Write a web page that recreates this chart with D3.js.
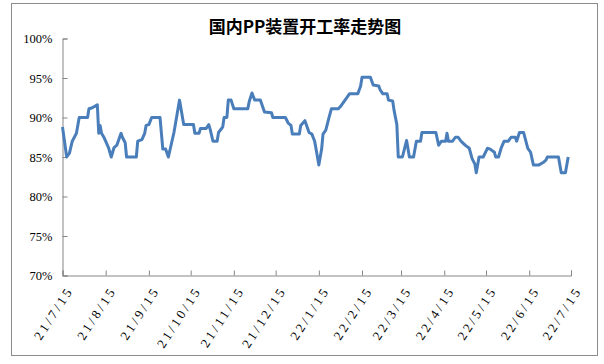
<!DOCTYPE html>
<html><head><meta charset="utf-8">
<script src="https://cdn.jsdelivr.net/npm/d3@7"></script>
<style>body{margin:0;background:#fff}svg{display:block}</style>
</head><body>
<svg id="c" width="604" height="364"></svg>
<script>
const title = "国内PP装置开工率走势图";
const dates = ["2021-07-15","2021-07-18","2021-07-20","2021-07-22","2021-07-25","2021-07-27","2021-08-02","2021-08-03","2021-08-05","2021-08-09",
"2021-08-10","2021-08-11","2021-08-12","2021-08-14","2021-08-17","2021-08-19","2021-08-21","2021-08-23","2021-08-26","2021-08-27",
"2021-08-29","2021-08-30","2021-09-06","2021-09-07","2021-09-10","2021-09-12","2021-09-13","2021-09-15","2021-09-17","2021-09-23",
"2021-09-25","2021-09-27","2021-09-29","2021-10-03","2021-10-07","2021-10-10","2021-10-17","2021-10-18","2021-10-21","2021-10-22",
"2021-10-26","2021-10-28","2021-10-29","2021-10-31","2021-11-03","2021-11-04","2021-11-07","2021-11-08","2021-11-10","2021-11-11",
"2021-11-13","2021-11-15","2021-11-25","2021-11-26","2021-11-28","2021-11-30","2021-12-04","2021-12-07","2021-12-12","2021-12-13",
"2021-12-22","2021-12-24","2021-12-26","2021-12-27","2022-01-01","2022-01-02","2022-01-05","2022-01-08","2022-01-10","2022-01-12",
"2022-01-13","2022-01-15","2022-01-17","2022-01-18","2022-01-20","2022-01-22","2022-01-24","2022-01-29","2022-01-31","2022-02-06",
"2022-02-12","2022-02-14","2022-02-15","2022-02-21","2022-02-23","2022-02-27","2022-02-28","2022-03-02","2022-03-05","2022-03-06",
"2022-03-09","2022-03-10","2022-03-12","2022-03-13","2022-03-16","2022-03-19","2022-03-21","2022-03-24","2022-03-26","2022-03-29",
"2022-03-30","2022-04-09","2022-04-11","2022-04-13","2022-04-16","2022-04-17","2022-04-18","2022-04-21","2022-04-23","2022-04-25",
"2022-04-27","2022-04-30","2022-05-03","2022-05-05","2022-05-07","2022-05-08","2022-05-10","2022-05-13","2022-05-16","2022-05-18",
"2022-05-21","2022-05-22","2022-05-24","2022-05-26","2022-05-28","2022-05-31","2022-06-02","2022-06-05","2022-06-06","2022-06-08",
"2022-06-11","2022-06-14","2022-06-16","2022-06-18","2022-06-22","2022-06-25","2022-06-27","2022-06-28","2022-07-06","2022-07-08",
"2022-07-11","2022-07-13"];
const rates = [88.8,85,85.5,87,88,90,90,91.1,91.2,91.6,
88,89,88,87.4,86.2,85,86.2,86.5,88,87.5,
86.8,85,85,87,87.2,88,89,89.1,90,90,
86,86,85,88.1,92.2,89.1,89.1,88,88,88.6,
88.6,89.1,88.5,87,87,88.1,88.8,90,90,92.2,
92.2,91.1,91.1,92,93.1,92.2,92.2,90.7,90.6,90,
90,89.3,89,87.9,87.9,89,89.6,88.1,87.9,87,
86,84,86,87.9,88.4,89.8,91.1,91.1,91.5,93,
93,94,95.1,95.1,94.1,94,93.5,93,93,92.2,
92.1,90.9,89.1,85,85,87.1,85,85,87,87,
88.1,88.1,86.5,87,87,88,87,87,87.5,87.5,
87,86.5,86.1,84.8,84.1,83,85,85,86.1,86,
85.6,85,85,86.2,87,87,87.5,87.5,87,88.1,
88.1,86.1,85.6,84,84,84.3,84.6,85,85,83,
83,85];
const xTickDates = ["2021-07-15","2021-08-15","2021-09-15","2021-10-15","2021-11-15","2021-12-15","2022-01-15","2022-02-15","2022-03-15","2022-04-15","2022-05-15","2022-06-15","2022-07-15"];
const xTickLabels = ["21/7/15","21/8/15","21/9/15","21/10/15","21/11/15","21/12/15","22/1/15","22/2/15","22/3/15","22/4/15","22/5/15","22/6/15","22/7/15"];
const yTicks = [70,75,80,85,90,95,100];

const parse = d3.timeParse("%Y-%m-%d");
const data = dates.map((d,i)=>({d:parse(d), v:rates[i]}));
const svg = d3.select("#c");
const L=62.5, R=571, T=38.5, B=275.5;
const x = d3.scaleTime().domain([parse(xTickDates[0]), parse(xTickDates[xTickDates.length-1])]).range([L,R]);
const y = d3.scaleLinear().domain([70,100]).range([B,T]);
const axisColor = "#868686";

svg.append("rect").attr("x",11.5).attr("y",3.5).attr("width",586).attr("height",352)
  .attr("fill","#fff").attr("stroke","#8c8c8c").attr("stroke-width",1);

svg.append("text").attr("x",305).attr("y",33).attr("text-anchor","middle")
  .attr("font-family","'Noto Sans CJK SC'").attr("font-weight","bold").attr("font-size",17)
  .attr("fill","#000").text(title);

// y axis
const ya = svg.append("g").attr("transform",`translate(${L},0)`)
  .call(d3.axisLeft(y).tickValues(yTicks).tickSize(-5).tickPadding(10).tickFormat(d=>d+"%"));
ya.select(".domain").attr("stroke",axisColor);
ya.selectAll(".tick line").attr("stroke",axisColor);
ya.selectAll(".tick text").attr("font-family","'Liberation Serif'").attr("font-size",12.5).attr("fill","#000");

// x axis
const tickDs = xTickDates.map(parse);
const xa = svg.append("g").attr("transform",`translate(0,${B})`)
  .call(d3.axisBottom(x).tickValues(tickDs).tickSize(-5).tickFormat((d,i)=>xTickLabels[i]));
xa.select(".domain").attr("stroke",axisColor);
xa.selectAll(".tick line").attr("stroke",axisColor);
xa.selectAll(".tick text")
  .attr("font-family","'Liberation Serif'").attr("font-size",13).attr("fill","#000")
  .attr("letter-spacing","3px")
  .attr("text-anchor","end").attr("dy","0.35em")
  .attr("transform","translate(7,12) rotate(-57)").attr("y",0);

const line = d3.line().x(d=>x(d.d)).y(d=>y(d.v));
svg.append("path").datum(data).attr("d",line).attr("fill","none")
  .attr("stroke","#4a7ebb").attr("stroke-width",3).attr("stroke-linejoin","round");
</script>
</body></html>
